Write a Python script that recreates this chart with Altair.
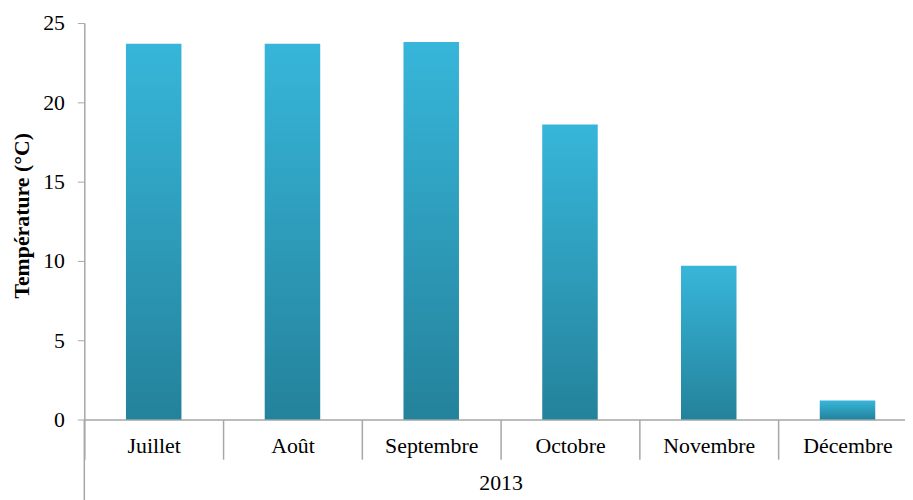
import altair as alt
import pandas as pd

months = ["Juillet", "Août", "Septembre", "Octobre", "Novembre", "Décembre"]
temps = [23.7, 23.7, 23.8, 18.6, 9.7, 1.2]
y_ticks = [0, 5, 10, 15, 20, 25]

df = pd.DataFrame({"Mois": months, "Temp": temps})

FONT = "Liberation Serif"
GRAY = "#a6a6a6"
FS = 22

grad = alt.Gradient(
    gradient="linear",
    stops=[alt.GradientStop(color="#37b6da", offset=0),
           alt.GradientStop(color="#24829b", offset=1)],
    x1=0, x2=0, y1=0, y2=1,
)

bars = alt.Chart(df).mark_bar(color=grad, size=56).encode(
    x=alt.X(
        "Mois:N", sort=months,
        scale=alt.Scale(range=[0, 840], paddingInner=0, paddingOuter=0),
        axis=alt.Axis(
            title="2013", titleFont=FONT, titleFontSize=FS, titleFontWeight="normal",
            titleColor="black", titleX=420, titleY=71, titleBaseline="alphabetic",
            labelFont=FONT, labelFontSize=FS, labelColor="black", labelAngle=0,
            labelBaseline="alphabetic", labelPadding=-7,
            tickBand="extent", tickSize=40, tickColor=GRAY, tickWidth=1.5,
            domainColor=GRAY, domainWidth=1.5,
        ),
    ),
    y=alt.Y(
        "Temp:Q",
        scale=alt.Scale(domain=[0, 25]),
        axis=alt.Axis(
            values=y_ticks, grid=False, title="Température (°C)",
            titleFont=FONT, titleFontSize=FS, titleFontWeight="bold", titleColor="black",
            titleX=-63, titleY=194, titleAngle=-90, titleAlign="center", titleBaseline="middle",
            labelFont=FONT, labelFontSize=FS, labelColor="black", labelPadding=13,
            tickSize=7, tickColor=GRAY, domainColor=GRAY, domainWidth=1.5,
        ),
    ),
)

sep = alt.Chart(pd.DataFrame({"a": [0]})).mark_rule(color=GRAY, strokeWidth=1.5).encode(
    x=alt.value(0), y=alt.value(400), y2=alt.value(500)
)

chart = alt.layer(bars, sep).properties(
    width=828, height=400,
    autosize=alt.AutoSizeParams(type="none"),
    padding={"left": 77, "top": 13, "right": 0, "bottom": 79},
).configure_view(stroke=None)

chart.save("out.html", embed_options={"renderer": "svg", "actions": False})
